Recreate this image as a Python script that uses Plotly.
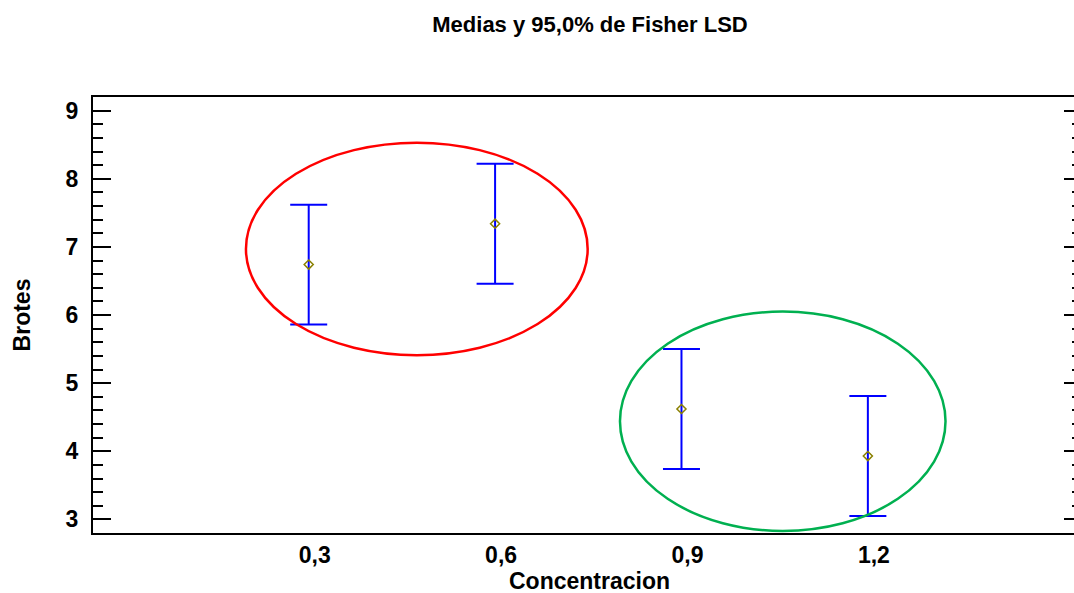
import plotly.graph_objects as go

# Data
concentracion = [0.3, 0.6, 0.9, 1.2]
medias = [6.74, 7.34, 4.62, 3.93]
lsd_half = [0.88, 0.88, 0.88, 0.88]
x_ticks = [0.3, 0.6, 0.9, 1.2]
y_ticks = [3, 4, 5, 6, 7, 8, 9]

# Grouping ellipses (center x, center y, radius x, radius y)
grupo_a = [0.474, 6.97, 0.275, 1.56]
grupo_b = [1.063, 4.44, 0.262, 1.61]

FONT = "Liberation Sans, Arial, sans-serif"

fig = go.Figure()
fig.add_trace(go.Scatter(
    x=concentracion, y=medias, mode="markers",
    marker=dict(symbol="diamond-open", size=7, color="#8a8000", line=dict(width=1.5)),
    error_y=dict(type="data", array=lsd_half, color="#0000ff", thickness=2, width=18.5),
    showlegend=False, yaxis="y",
))
# invisible trace to activate the right-side mirrored tick axis
fig.add_trace(go.Scatter(x=[concentracion[0]], y=[medias[0]], mode="markers",
                         marker=dict(opacity=0), showlegend=False, yaxis="y2", hoverinfo="skip"))

for g, col in [(grupo_a, "#ff0000"), (grupo_b, "#00b050")]:
    cx, cy, rx, ry = g
    fig.add_shape(type="circle", xref="x", yref="y",
                  x0=cx - rx, x1=cx + rx, y0=cy - ry, y1=cy + ry,
                  line=dict(color=col, width=2.5), layer="above")

yr = [2.8, 9.2]
bold = lambda s: dict(size=s, family=FONT, weight="bold", color="black")
fig.update_layout(
    width=1074, height=593,
    margin=dict(l=93, r=0, t=97, b=60),
    paper_bgcolor="white", plot_bgcolor="white",
    separators=",.",
    font=dict(family=FONT, color="black"),
    title=dict(text="Medias y 95,0% de Fisher LSD", x=590 / 1074, xref="container", xanchor="center",
               y=1 - 24 / 593, yref="container", yanchor="middle", font=bold(22)),
    xaxis=dict(range=[-0.0472, 1.5318], tickvals=x_ticks, tickformat=".1f",
               ticks="", showline=True, linewidth=2, linecolor="black", mirror=True,
               showgrid=False, zeroline=False, tickfont=bold(23), ticklabelshift=6,
               ticklabelstandoff=0),
    yaxis=dict(range=yr, tickvals=y_ticks, ticks="inside", ticklen=18, tickwidth=2,
               tickcolor="black", showline=True, linewidth=2, linecolor="black", mirror=False,
               minor=dict(dtick=0.2, ticks="inside", ticklen=10, tickwidth=2, tickcolor="black"),
               showgrid=False, zeroline=False, ticklabelstandoff=8, tickfont=bold(23),
               title=dict(text="Brotes", font=bold(23), standoff=29)),
    yaxis2=dict(range=yr, overlaying="y", side="right", anchor="x", tickvals=y_ticks,
                ticks="inside", ticklen=10, tickwidth=2, tickcolor="black",
                minor=dict(dtick=0.2, ticks="inside", ticklen=2, tickwidth=2, tickcolor="black"),
                showticklabels=False, showline=False, showgrid=False, zeroline=False),
    annotations=[dict(text="Concentracion", xref="paper", yref="paper",
                      x=(589.5 - 93) / 981, y=-48 / 436, xanchor="center", yanchor="middle",
                      showarrow=False, font=bold(23))],
)

fig.write_html("out.html")
